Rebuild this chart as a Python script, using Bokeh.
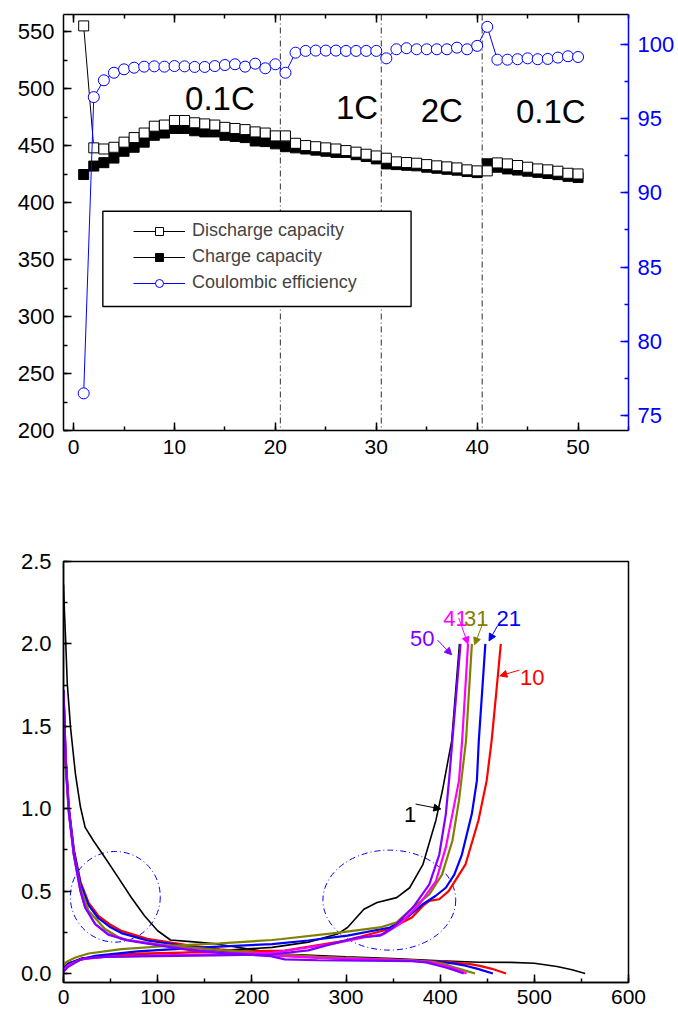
from bokeh.plotting import figure
from bokeh.models import (Range1d, LinearAxis, SingleIntervalTicker, Span, BoxAnnotation,
                          Legend, LegendItem, Label, Arrow, NormalHead, PrintfTickFormatter,
                          CustomJSTickFormatter)
from bokeh.layouts import column
from bokeh.embed import file_html
from bokeh.resources import INLINE

FONT = "Liberation Sans"

# ---------------- top chart data ----------------
cycles = list(range(1, 51))
discharge_capacity = [555, 448, 447, 448.5, 453, 457, 461, 467, 468, 472,
                      472, 470, 469, 468, 466, 465, 464, 462, 461, 458.5,
                      458.5, 452, 450, 449, 448, 447, 445.6, 444.2, 442.4, 440.9,
                      438.9, 435.7, 435.1, 434.5, 433.3, 432.2, 431.3, 430.4, 428.7, 427.8,
                      427.8, 434.8, 433.9, 432.5, 431, 429.5, 428.7, 427.5, 425.7, 425.1]
charge_capacity = [424.6, 432, 435, 439, 445, 448.5, 453, 459, 461, 465,
                   465, 463, 462, 462, 459, 458, 457, 454, 453.5, 451.5,
                   449, 448, 447, 446, 445, 444, 444, 442, 440.4, 438.3,
                   433.9, 433.3, 432.7, 432.2, 431, 430.1, 429.2, 428.4, 427.2, 426.3,
                   434, 431, 429.5, 428.5, 427.5, 426.5, 425.5, 424.5, 423, 422]
coulombic_efficiency = [76.5, 96.44, 97.57, 98.08, 98.31, 98.42, 98.49, 98.51, 98.49, 98.53,
                        98.51, 98.47, 98.47, 98.53, 98.60, 98.65, 98.49, 98.69, 98.38, 98.65,
                        98.08, 99.43, 99.55, 99.57, 99.57, 99.57, 99.55, 99.55, 99.55, 99.55,
                        99.05, 99.66, 99.73, 99.66, 99.66, 99.66, 99.66, 99.77, 99.66, 99.89,
                        101.17, 98.96, 98.96, 98.99, 99.05, 98.99, 99.01, 99.10, 99.19, 99.14]
rate_boundaries = [20.5, 30.5, 40.5]
rate_labels = ["0.1C", "1C", "2C", "0.1C"]
rate_label_x = [14.5, 28.1, 36.5, 47.3]
rate_label_y = [491, 483.5, 481, 479.5]

# ---------------- bottom chart data ----------------
c1_dis_cap = [0, 1, 2.3, 4, 7.5, 12.7, 18, 23, 31.8, 44, 58, 72, 86, 100, 113.6, 135, 159, 200,
              232, 300, 350, 400, 441, 475, 500, 524, 540, 554]
c1_dis_v = [2.36, 2.2, 2.02, 1.76, 1.49, 1.21, 1.01, 0.886, 0.805, 0.704, 0.583, 0.461, 0.35,
            0.259, 0.203, 0.193, 0.182, 0.145, 0.118, 0.101, 0.09, 0.077, 0.068, 0.067, 0.062,
            0.042, 0.022, 0.0]
c1_chg_cap = [0, 5, 19.7, 40, 61.5, 131, 221.5, 260, 291, 301.6, 319, 333, 353.8, 367.6,
              381.6, 395.5, 402.4, 412.2, 420.5]
c1_chg_v = [0.02, 0.06, 0.093, 0.105, 0.11, 0.127, 0.158, 0.19, 0.239, 0.279, 0.39, 0.43,
            0.46, 0.52, 0.66, 0.93, 1.11, 1.41, 2.0]

c10_dis_cap = [0, 2.3, 5.7, 11, 18, 26.6, 37, 50, 61.5, 89, 131, 166, 200, 250, 300, 350, 406,
               430, 441, 455, 470]
c10_dis_v = [1.72, 1.31, 1.0, 0.75, 0.555, 0.43, 0.35, 0.295, 0.258, 0.21, 0.172, 0.146, 0.128,
             0.107, 0.092, 0.083, 0.071, 0.058, 0.047, 0.028, 0.0]
c10_chg_cap = [0, 5, 16, 33.6, 78.8, 148, 235, 300, 346, 370, 381.6, 388.5, 399, 409, 426.8,
               440.7, 449.4, 454.6, 459.5, 464.4]
c10_chg_v = [0.03, 0.06, 0.08, 0.1, 0.12, 0.13, 0.138, 0.2, 0.27, 0.34, 0.41, 0.44, 0.45, 0.50,
             0.66, 0.93, 1.17, 1.41, 1.7, 2.0]

c21_dis_cap = [0, 2.3, 5.7, 11, 18, 26.6, 37, 50, 61.5, 89, 131, 166, 200, 250, 300, 350, 399,
               415, 427, 440, 456]
c21_dis_v = [1.72, 1.31, 1.0, 0.745, 0.545, 0.415, 0.335, 0.28, 0.245, 0.2, 0.165, 0.14, 0.122,
             0.103, 0.088, 0.08, 0.071, 0.06, 0.047, 0.028, 0.0]
c21_chg_cap = [0, 5, 16, 33.6, 78.8, 148.4, 221.5, 260, 301.6, 346.8, 365, 381.6, 395, 406,
               415, 423, 433.7, 439, 441, 448]
c21_chg_v = [0.03, 0.06, 0.081, 0.107, 0.134, 0.158, 0.178, 0.2, 0.229, 0.279, 0.34, 0.42,
             0.47, 0.52, 0.6, 0.72, 0.97, 1.17, 1.41, 2.0]

c31_dis_cap = [0, 2.3, 5.7, 11, 18, 26.6, 44, 61.5, 96, 130, 170, 220, 270, 320, 370, 392,
               403, 413, 425, 437]
c31_dis_v = [1.6, 1.25, 0.97, 0.72, 0.52, 0.38, 0.27, 0.209, 0.18, 0.16, 0.14, 0.12, 0.1,
             0.09, 0.08, 0.071, 0.06, 0.04, 0.02, 0.0]
c31_chg_cap = [0, 3, 12.7, 26.6, 61.5, 113.7, 166, 221.5, 232, 294.6, 336, 353.8, 371, 388.5,
               402, 413, 420, 427.4, 433.7]
c31_chg_v = [0.047, 0.07, 0.097, 0.121, 0.148, 0.168, 0.182, 0.203, 0.209, 0.249, 0.279, 0.31,
             0.40, 0.48, 0.60, 0.805, 1.05, 1.41, 2.0]

c41_dis_cap = [0, 2.3, 5.7, 11, 18, 23, 33.6, 47.5, 68, 96, 131, 166, 220, 270, 320, 370, 390,
               403, 415, 428]
c41_dis_v = [1.7, 1.28, 0.98, 0.72, 0.5, 0.40, 0.30, 0.239, 0.203, 0.178, 0.148, 0.127, 0.11,
             0.095, 0.087, 0.078, 0.068, 0.05, 0.03, 0.0]
c41_chg_cap = [0, 5, 19.7, 44, 96, 166, 221.5, 250, 284, 318.9, 340, 357, 378, 395.5, 406,
               413, 420, 423.3, 429.6]
c41_chg_v = [0.02, 0.05, 0.087, 0.10, 0.11, 0.117, 0.125, 0.15, 0.178, 0.218, 0.239, 0.30,
             0.42, 0.56, 0.765, 0.967, 1.17, 1.41, 2.0]

c50_dis_cap = [0, 2.3, 5.7, 11, 18, 23, 33.6, 47.5, 68, 96, 131, 166, 220, 235, 270, 320, 370,
               385, 406, 415, 425]
c50_dis_v = [1.72, 1.28, 0.98, 0.72, 0.5, 0.40, 0.30, 0.235, 0.2, 0.175, 0.145, 0.125, 0.105,
             0.085, 0.08, 0.078, 0.075, 0.067, 0.036, 0.02, 0.0]
c50_chg_cap = [0, 5, 20, 44, 100, 160, 220, 260, 284, 312, 336, 350, 371, 388.5, 399, 406,
               409.4, 412.9, 421.6]
c50_chg_v = [0.01, 0.04, 0.09, 0.1, 0.105, 0.11, 0.115, 0.14, 0.178, 0.218, 0.229, 0.279,
             0.40, 0.54, 0.72, 0.967, 1.17, 1.41, 2.0]

curve_colors = {"1": "black", "10": "#FF0000", "21": "#0000FF", "31": "#808000",
                "41": "#FF00FF", "50": "#8000FF"}
curves = [("1", c1_dis_cap, c1_dis_v, c1_chg_cap, c1_chg_v),
          ("10", c10_dis_cap, c10_dis_v, c10_chg_cap, c10_chg_v),
          ("21", c21_dis_cap, c21_dis_v, c21_chg_cap, c21_chg_v),
          ("31", c31_dis_cap, c31_dis_v, c31_chg_cap, c31_chg_v),
          ("41", c41_dis_cap, c41_dis_v, c41_chg_cap, c41_chg_v),
          ("50", c50_dis_cap, c50_dis_v, c50_chg_cap, c50_chg_v)]

# cycle-number annotations: label text, label x/y, arrow start, arrow end
cycle_labels = ["50", "41", "31", "21", "10", "1"]
cycle_label_x = [381, 416.4, 438.4, 472.9, 497.8, 368.2]
cycle_label_y = [2.03, 2.157, 2.157, 2.157, 1.796, 0.967]
arrow_x0 = [397.2, 419.8, 446.3, 460.9, 484.2, 373.9]
arrow_y0 = [2.023, 2.157, 2.14, 2.11, 1.841, 1.028]
arrow_x1 = [412.2, 429.5, 436.5, 451.9, 463.4, 400.7]
arrow_y1 = [1.934, 1.999, 1.995, 2.018, 1.806, 0.998]

ellipse_x = [55, 346]
ellipse_y = [0.465, 0.445]
ellipse_w = [95.5, 141]
ellipse_h = [0.55, 0.607]


def style_axis(ax, size="22px", color="black"):
    ax.axis_line_color = color
    ax.axis_line_width = 1.5
    ax.major_tick_in = 8
    ax.major_tick_out = 0
    ax.minor_tick_in = 4
    ax.minor_tick_out = 0
    ax.major_tick_line_color = color
    ax.minor_tick_line_color = color
    ax.major_tick_line_width = 1.5
    ax.minor_tick_line_width = 1.5
    ax.major_label_text_font = FONT
    ax.major_label_text_font_size = size
    ax.major_label_text_color = color
    ax.major_label_standoff = 9


# ================= TOP CHART =================
top = figure(width=678, height=490, output_backend="svg", toolbar_location=None,
             x_range=Range1d(-1, 55), y_range=Range1d(200, 565),
             min_border_left=63, min_border_right=50, min_border_top=14, min_border_bottom=60)
top.extra_y_ranges = {"ce": Range1d(74, 102)}
top.grid.visible = False
top.outline_line_color = None
top.background_fill_color = "white"

top.xaxis.ticker = SingleIntervalTicker(interval=10, num_minor_ticks=2)
top.yaxis.ticker = SingleIntervalTicker(interval=50, num_minor_ticks=2)
style_axis(top.xaxis[0], size="21px")
style_axis(top.yaxis[0], size="22px")

right_ax = LinearAxis(y_range_name="ce", ticker=SingleIntervalTicker(interval=5, num_minor_ticks=2))
style_axis(right_ax, size="22px", color="#0000FF")
top.add_layout(right_ax, "right")

top_ax = LinearAxis(ticker=SingleIntervalTicker(interval=10, num_minor_ticks=2),
                    formatter=CustomJSTickFormatter(code="return ''"))
style_axis(top_ax)
top_ax.major_label_standoff = 0
top.add_layout(top_ax, "above")

for xb in rate_boundaries:
    top.add_layout(Span(location=xb, dimension="height", line_color="#505050",
                        line_dash="6 3 1 3", line_width=1.2, level="underlay"))

chg_line = top.line(cycles, charge_capacity, line_color="black", line_width=1)
chg_pts = top.scatter(cycles, charge_capacity, marker="square", size=10,
                      fill_color="black", line_color="black", line_width=1)
dis_line = top.line(cycles, discharge_capacity, line_color="black", line_width=1)
dis_pts = top.scatter(cycles, discharge_capacity, marker="square", size=10,
                      fill_color="white", line_color="black", line_width=1)
ce_line = top.line(cycles, coulombic_efficiency, line_color="#0000FF", line_width=1,
                   y_range_name="ce")
ce_pts = top.scatter(cycles, coulombic_efficiency, marker="circle", size=11,
                     fill_color="white", line_color="#0000FF", line_width=1, y_range_name="ce")

for t, xx, yy in zip(rate_labels, rate_label_x, rate_label_y):
    top.add_layout(Label(x=xx, y=yy, text=t, text_align="center", text_baseline="alphabetic",
                         text_font=FONT, text_font_size="33px", text_color="black"))

# legend frame
top.add_layout(BoxAnnotation(left=2.9, right=33.45, top=392.4, bottom=308.8,
                             fill_color="white", fill_alpha=1.0,
                             line_color="black", line_alpha=1.0, line_width=1.4))
legend = Legend(items=[LegendItem(label="Discharge capacity", renderers=[dis_line, dis_pts]),
                       LegendItem(label="Charge capacity", renderers=[chg_line, chg_pts]),
                       LegendItem(label="Coulombic efficiency", renderers=[ce_line, ce_pts])],
                location=(58, 125), padding=12, spacing=5, glyph_width=52, glyph_height=20,
                label_height=20, label_standoff=7, label_text_font=FONT,
                label_text_font_size="18px", border_line_alpha=0, background_fill_alpha=0,
                margin=0)
top.add_layout(legend, "center")

# ================= BOTTOM CHART =================
bot = figure(width=678, height=523, output_backend="svg", toolbar_location=None,
             x_range=Range1d(0, 600), y_range=Range1d(-0.055, 2.5),
             min_border_left=58, min_border_right=48, min_border_top=71, min_border_bottom=31)
bot.grid.visible = False
bot.outline_line_color = "black"
bot.outline_line_width = 1.5
bot.background_fill_color = "white"
bot.xaxis.ticker = SingleIntervalTicker(interval=100, num_minor_ticks=2)
bot.yaxis.ticker = SingleIntervalTicker(interval=0.5, num_minor_ticks=2)
bot.yaxis.formatter = PrintfTickFormatter(format="%.1f")
style_axis(bot.xaxis[0], size="21px")
style_axis(bot.yaxis[0], size="22px")
bot.xaxis[0].major_label_standoff = 7
bot.yaxis[0].major_label_standoff = 12

bot.ellipse(x=ellipse_x, y=ellipse_y, width=ellipse_w, height=ellipse_h,
            fill_color=None, line_color="#0000FF", line_dash="6 3 1 3", line_width=1)

for name, dc, dv, cc, cv in curves:
    col = curve_colors[name]
    lw = 1.6 if name == "1" else 2.2
    bot.line(dc, dv, line_color=col, line_width=lw)
    bot.line(cc, cv, line_color=col, line_width=lw)

for t, lx, ly, x0, y0, x1, y1 in zip(cycle_labels, cycle_label_x, cycle_label_y,
                                     arrow_x0, arrow_y0, arrow_x1, arrow_y1):
    col = curve_colors[t]
    bot.add_layout(Arrow(end=NormalHead(size=7, fill_color=col, line_color=col),
                         x_start=x0, y_start=y0, x_end=x1, y_end=y1,
                         line_color=col, line_width=1))
    bot.add_layout(Label(x=lx, y=ly, text=t, text_align="center", text_baseline="alphabetic",
                         text_font=FONT, text_font_size="22px", text_color=col))

layout = column(top, bot, spacing=0)
open("out.html", "w").write(file_html(layout, INLINE))
